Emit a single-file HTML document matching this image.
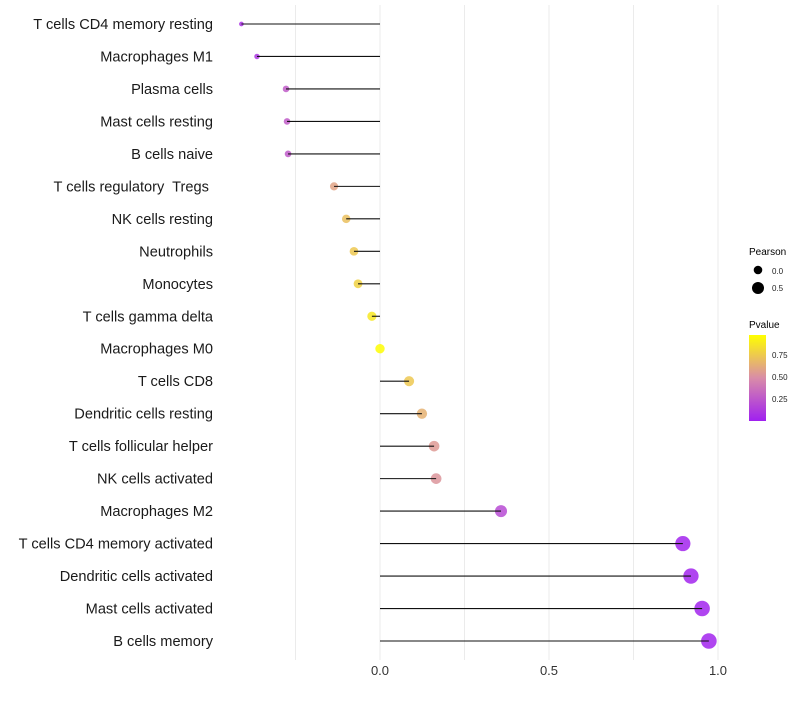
<!DOCTYPE html>
<html><head><meta charset="utf-8"><style>
body{margin:0;background:#fff;width:800px;height:700px;overflow:hidden;font-family:"Liberation Sans",sans-serif;}
text{white-space:pre;}
</style></head><body>
<svg id="chart" width="800" height="700" xmlns="http://www.w3.org/2000/svg">
<defs><linearGradient id="pg" x1="0" y1="1" x2="0" y2="0">
<stop offset="0" stop-color="#A020F0"/><stop offset="0.5" stop-color="#D98CA8"/><stop offset="1" stop-color="#FFFF00"/>
</linearGradient></defs>
<g id="grid"></g>
<g id="marks"></g>
<g id="ylabels"></g>
<g id="xlabels"></g>
<g>
<text x="749" y="255" font-size="10" fill="#000">Pearson</text>
<circle cx="758" cy="270" r="4.3" fill="#000"/>
<text x="772" y="274" font-size="8" fill="#222">0.0</text>
<circle cx="758" cy="288" r="6" fill="#000"/>
<text x="772" y="291" font-size="8" fill="#222">0.5</text>
</g>
<g>
<text x="749" y="328" font-size="10" fill="#000">Pvalue</text>
<rect x="749" y="335" width="17" height="86" fill="url(#pg)"/>
<text x="772" y="358" font-size="8" fill="#222">0.75</text>
<text x="772" y="380" font-size="8" fill="#222">0.50</text>
<text x="772" y="402" font-size="8" fill="#222">0.25</text>
</g>
</svg>
<script>
const categories=["T cells CD4 memory resting","Macrophages M1","Plasma cells","Mast cells resting","B cells naive","T cells regulatory  Tregs ","NK cells resting","Neutrophils","Monocytes","T cells gamma delta","Macrophages M0","T cells CD8","Dendritic cells resting","T cells follicular helper","NK cells activated","Macrophages M2","T cells CD4 memory activated","Dendritic cells activated","Mast cells activated","B cells memory"];
const pearson=[-0.41,-0.364,-0.278,-0.275,-0.272,-0.136,-0.10,-0.077,-0.065,-0.024,0.0,0.086,0.124,0.16,0.166,0.358,0.896,0.92,0.953,0.973];
const pvalues=[0.08,0.1,0.28,0.28,0.27,0.6,0.72,0.76,0.8,0.9,0.99,0.76,0.66,0.56,0.54,0.2,0.02,0.02,0.02,0.02];
const xTicks=[0.0,0.5,1.0];
const xTickLabels=["0.0","0.5","1.0"];
const xMinor=[-0.25,0.25,0.75];
const NS="http://www.w3.org/2000/svg";
const x=v=>380+v*338;
const y=i=>24+i*(641-24)/(categories.length-1);
const rad=v=>Math.sqrt(Math.max(2.25,22+40*v));
function lerp(a,b,t){return a.map((c,k)=>Math.round(c+(b[k]-c)*t));}
function col(p){const A=[160,32,240],M=[217,140,168],B=[255,255,0];const c=p<0.5?lerp(A,M,p/0.5):lerp(M,B,(p-0.5)/0.5);return `rgb(${c.join(',')})`;}
function mk(tag,attrs,parent){const e=document.createElementNS(NS,tag);for(const k in attrs)e.setAttribute(k,attrs[k]);parent.appendChild(e);return e;}
const grid=document.getElementById('grid'),marks=document.getElementById('marks'),yl=document.getElementById('ylabels'),xl=document.getElementById('xlabels');
xMinor.concat(xTicks).forEach(v=>{const l=mk('line',{x1:x(v),x2:x(v),y1:5,y2:660,stroke:'#ebebeb','stroke-width':1},grid);

});
xTicks.forEach((v,i)=>{const t=mk('text',{x:x(v),y:675,'font-size':13,'text-anchor':'middle',fill:'#333'},xl);t.textContent=xTickLabels[i];

});
categories.forEach((c,i)=>{
const t=mk('text',{x:213,y:y(i)+5,'font-size':14.6,'text-anchor':'end',fill:'#1a1a1a'},yl);t.textContent=c;


const pt=mk('circle',{cx:x(pearson[i]),cy:y(i),r:rad(pearson[i]),fill:col(pvalues[i]),'fill-opacity':0.85},marks);


const s=mk('line',{x1:x(0),x2:x(pearson[i]),y1:y(i),y2:y(i),stroke:'#111','stroke-width':1.1},marks);


});
</script>
</body></html>
